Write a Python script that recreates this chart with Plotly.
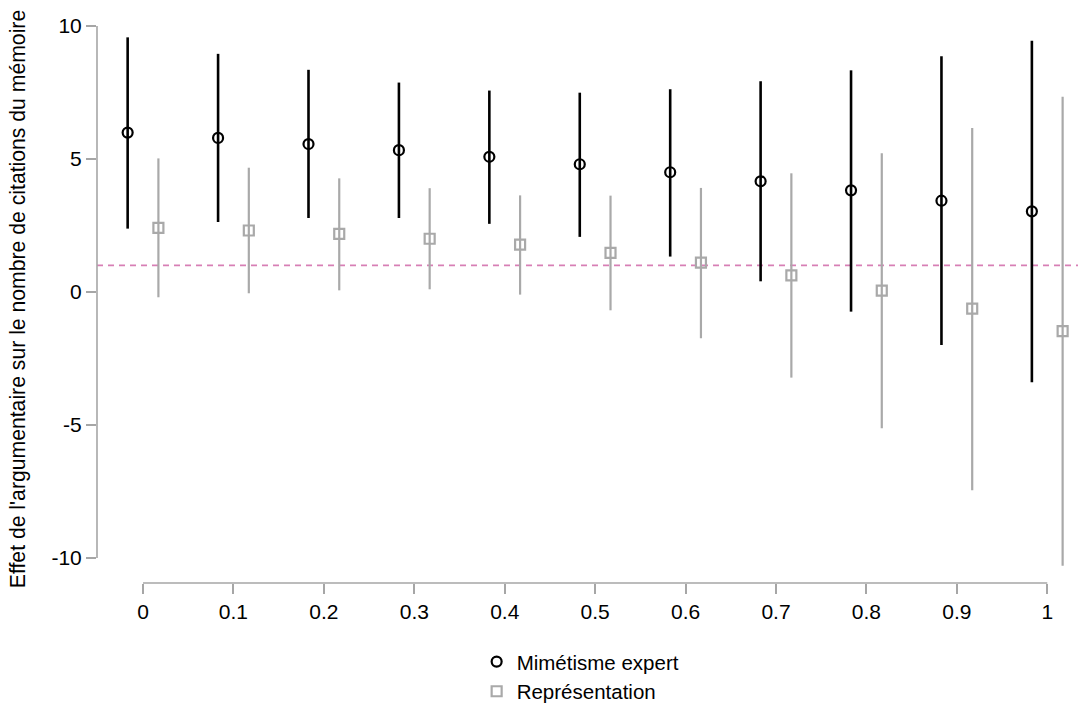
import plotly.graph_objects as go

# Moderator values (x axis)
moderator = [0.0, 0.1, 0.2, 0.3, 0.4, 0.5, 0.6, 0.7, 0.8, 0.9, 1.0]

# Mimétisme expert: point estimate and 95% interval
mim_est = [5.99, 5.79, 5.56, 5.33, 5.08, 4.80, 4.50, 4.16, 3.82, 3.43, 3.03]
mim_low = [2.38, 2.63, 2.78, 2.78, 2.56, 2.07, 1.33, 0.40, -0.74, -1.99, -3.39]
mim_high = [9.57, 8.95, 8.35, 7.87, 7.57, 7.49, 7.62, 7.92, 8.33, 8.86, 9.44]

# Représentation: point estimate and 95% interval
rep_est = [2.41, 2.31, 2.18, 2.00, 1.78, 1.47, 1.10, 0.62, 0.05, -0.63, -1.47]
rep_low = [-0.20, -0.05, 0.06, 0.10, -0.10, -0.69, -1.74, -3.22, -5.12, -7.45, -10.29]
rep_high = [5.02, 4.67, 4.27, 3.90, 3.63, 3.62, 3.91, 4.46, 5.21, 6.16, 7.34]

reference_line = 1.0
x_ticks = [0, 0.1, 0.2, 0.3, 0.4, 0.5, 0.6, 0.7, 0.8, 0.9, 1]
x_tick_text = ["0", "0.1", "0.2", "0.3", "0.4", "0.5", "0.6", "0.7", "0.8", "0.9", "1"]
y_ticks = [-10, -5, 0, 5, 10]
y_tick_text = ["-10", "-5", "0", "5", "10"]

dodge = 0.017
axis_grey = "#A6A6A6"
font_family = "Liberation Sans, Arial, sans-serif"


def shifted(values, delta):
    return [v + delta for v in values]


def err_up(est, high):
    return [h - e for e, h in zip(est, high)]


def err_down(est, low):
    return [e - l for e, l in zip(est, low)]


fig = go.Figure()

fig.add_trace(go.Scatter(
    x=shifted(moderator, -dodge), y=mim_est,
    mode="markers", name="Mimétisme expert", legendgroup="m",
    marker=dict(symbol="circle-open", size=10, color="black", line=dict(width=2.2, color="black")),
    error_y=dict(type="data", symmetric=False, array=err_up(mim_est, mim_high),
                 arrayminus=err_down(mim_est, mim_low), width=0, thickness=2.6, color="black"),
))

fig.add_trace(go.Scatter(
    x=shifted(moderator, dodge), y=rep_est,
    mode="markers", name="Représentation", legendgroup="r",
    marker=dict(symbol="square-open", size=10, color="#A9A9A9", line=dict(width=2.2, color="#A9A9A9")),
    error_y=dict(type="data", symmetric=False, array=err_up(rep_est, rep_high),
                 arrayminus=err_down(rep_est, rep_low), width=0, thickness=2.2, color="#A9A9A9"),
))

# Dashed reference line
fig.add_shape(type="line", xref="paper", x0=0, x1=1, yref="y", y0=reference_line, y1=reference_line,
              line=dict(color="#D77FB5", width=1.7, dash="6px,5px"), layer="below")

# Detached axis lines, spanning only the tick range
fig.add_shape(type="line", xref="paper", x0=0, x1=0, yref="y", y0=min(y_ticks), y1=max(y_ticks),
              line=dict(color=axis_grey, width=1.6))
fig.add_shape(type="line", xref="x", x0=min(x_ticks), x1=max(x_ticks), yref="paper", y0=0, y1=0,
              line=dict(color=axis_grey, width=1.6))

fig.update_layout(
    width=1088, height=706,
    margin=dict(l=97, r=10, t=15, b=123, autoexpand=False),
    paper_bgcolor="white", plot_bgcolor="white",
    font=dict(family=font_family, size=21, color="black"),
    showlegend=True,
    legend=dict(x=0.387, y=-0.1035, xanchor="left", yanchor="top",
                font=dict(size=20.5), tracegroupgap=0, bgcolor="rgba(0,0,0,0)"),
    xaxis=dict(range=[-0.0509, 1.034], tickvals=x_ticks, ticktext=x_tick_text,
               ticks="outside", ticklen=10, tickwidth=1.6, tickcolor=axis_grey,
               showgrid=False, zeroline=False, showline=False,
               tickfont=dict(size=21)),
    yaxis=dict(range=[-10.94, 10.41], tickvals=y_ticks, ticktext=y_tick_text,
               ticks="outside", ticklen=10, tickwidth=1.6, tickcolor=axis_grey,
               showgrid=False, zeroline=False, showline=False,
               tickfont=dict(size=21),
               title=dict(text="Effet de l'argumentaire sur le nombre de citations du mémoire",
                          font=dict(size=21.2), standoff=20)),
)

fig.write_html("out.html")
